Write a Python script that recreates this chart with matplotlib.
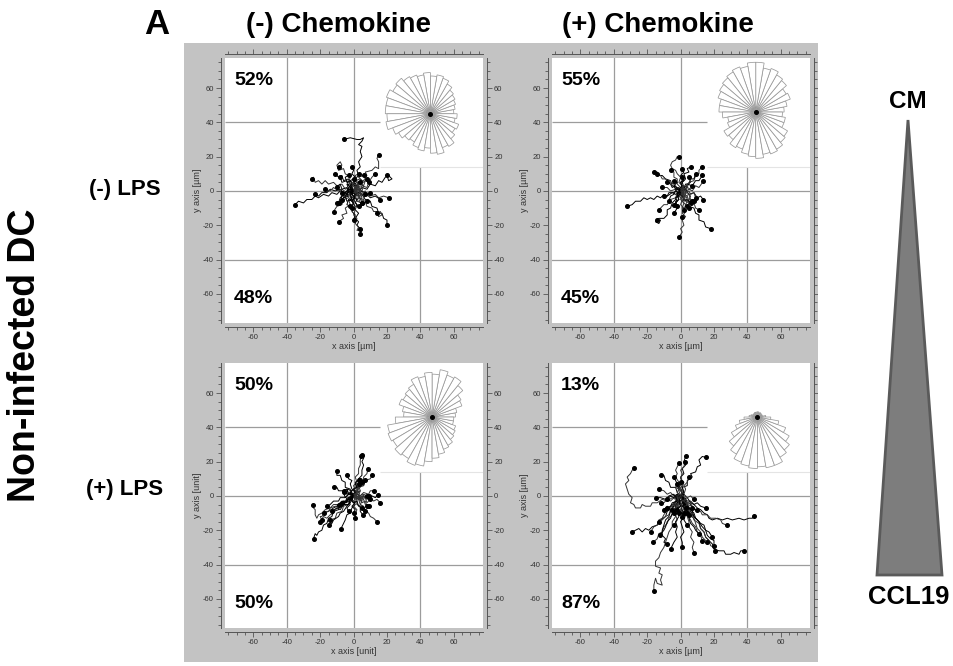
import numpy as np
import matplotlib.pyplot as plt
from matplotlib.patches import Wedge, Rectangle, Polygon
from matplotlib.ticker import MultipleLocator

plt.rcParams['font.family'] = ['Liberation Sans', 'DejaVu Sans']
plt.rcParams['axes.unicode_minus'] = False

W, H = 954, 666

col_titles = ['(-) Chemokine', '(+) Chemokine']
row_titles = ['(-) LPS', '(+) LPS']
upper_pct = ['52%', '55%', '50%', '13%']
lower_pct = ['48%', '45%', '50%', '87%']
x_labels = ['x axis [µm]', 'x axis [µm]', 'x axis [unit]', 'x axis [µm]']
y_labels = ['y axis [µm]', 'y axis [µm]', 'y axis [unit]', 'y axis [µm]']

# rose diagrams: 36 bins of 10 degrees, counter-clockwise from east
rose_bins = np.arange(0, 360, 10)
rose_tl = [14, 15, 16, 17, 18, 20, 22, 23, 22, 24, 23, 24, 25, 27, 26, 28, 27, 27,
           26, 27, 24, 22, 20, 19, 21, 22, 20, 23, 24, 21, 22, 19, 17, 18, 15, 16]
rose_tr = [17, 19, 22, 21, 24, 25, 27, 26, 29, 29, 27, 28, 27, 26, 25, 24, 22, 22,
           20, 17, 18, 22, 21, 24, 23, 25, 26, 27, 25, 26, 25, 23, 22, 18, 18, 16]
rose_bl = [14, 15, 19, 20, 24, 27, 26, 28, 25, 26, 24, 25, 22, 21, 20, 21, 18, 17,
           22, 27, 28, 27, 29, 28, 30, 29, 26, 24, 22, 20, 19, 17, 16, 15, 13, 13]
rose_br = [5, 3, 3, 2, 3, 3, 2, 3, 3, 3, 2, 3, 3, 2, 3, 3, 4, 5,
           8, 11, 14, 18, 22, 25, 28, 29, 30, 29, 30, 30, 27, 25, 22, 18, 13, 8]
rose_centers = [(46, 45), (45, 46), (47, 46), (46, 46)]

# cell tracks, flat x,y pairs in um, all starting at the origin
tracks_tl = [
    [0,0, 2,3, 0,6, 3,9, 2,12, 4,14, 3,17, 5,20, 4,23, 5,26, 3,27, 5,29, 6,31, 4,30, 2,30, -2,31, -6,30],
    [0,0, 3,2, 2,5, 6,6, 8,9, 7,11, 11,12, 13,14, 15,13, 15,17, 14,19, 15,21],
    [0,0, -3,1, -5,-1, -8,0, -10,-2, -13,-1, -15,-3, -18,-2, -21,-4, -23,-3, -25,-5, -28,-5, -30,-7, -33,-6, -35,-8],
    [0,0, -2,2, -5,1, -7,4, -10,3, -12,5, -15,4, -17,6, -19,4, -21,6, -23,5, -24,8, -25,7],
    [0,0, -3,-2, -6,-1, -8,1, -11,0, -14,1, -16,-1, -19,-1, -21,-3, -23,-2],
    [0,0, -2,1, -4,-1, -7,1, -9,0, -12,2, -14,0, -17,1],
    [0,0, 1,3, -2,4, -3,7, -6,6, -7,9, -9,8, -11,10],
    [0,0, -1,3, -3,5, -2,8, -5,10, -6,13, -9,12, -10,15, -8,17, -7,15, -9,14],
    [0,0, 2,2, 0,5, 1,8, -1,10, 0,12, -1,14],
    [0,0, 2,1, 3,4, 6,3, 7,6, 9,5, 11,8, 13,10],
    [0,0, 3,-1, 5,2, 8,1, 10,4, 13,3, 15,6, 17,5, 19,8, 21,9, 23,7, 21,6, 20,9],
    [0,0, 3,1, 5,-2, 8,-1, 10,-3, 13,-2, 15,-4, 18,-3, 21,-4],
    [0,0, 2,-3, 5,-2, 7,-5, 10,-6, 11,-9, 14,-10, 15,-13, 17,-13, 18,-16, 20,-17, 20,-20],
    [0,0, 3,-2, 4,-5, 7,-6, 8,-9, 11,-10, 12,-12, 14,-12, 15,-15, 17,-14, 16,-12, 14,-13],
    [0,0, 2,-2, 0,-5, 2,-8, 1,-11, 3,-13, 1,-16, 3,-18, 2,-20, 4,-22],
    [0,0, -2,-3, 0,-6, -1,-9, 1,-11, 0,-14, 2,-16, 1,-19, 3,-21, 2,-23, 5,-23, 4,-25],
    [0,0, 1,-3, -1,-6, 1,-9, -1,-12, 1,-14, 0,-17],
    [0,0, -2,-1, -3,-4, -6,-5, -7,-8, -10,-9, -12,-12],
    [0,0, -3,1, -4,-2, -7,-3, -8,-6, -10,-7],
    [0,0, -1,-3, -3,-5, -2,-8, -5,-10, -4,-13, -7,-14, -6,-16, -9,-18],
    [0,0, 3,-2, 5,0, 8,-2, 10,-4, 13,-3, 16,-5],
    [0,0, 2,-1, 1,2, 4,3, 3,0, 5,-2, 3,-4, 6,-5, 7,-2],
    [0,0, -2,1, -1,3, -4,4, -3,1, -5,-1, -3,-3, -6,-4, -7,-1],
    [0,0, 1,3, 3,2, 2,5, 5,6, 3,8, 6,9],
    [0,0, -1,-2, 1,-4, -1,-6, -3,-5, -4,-8, -2,-9],
    [0,0, 3,1, 4,-2, 7,0, 8,-3, 10,-1],
    [0,0, -3,-1, -4,2, -7,1, -8,4, -10,2],
    [0,0, 1,-2, 4,-1, 5,-4, 3,-6, 6,-8, 8,-6],
    [0,0, -2,2, 0,4, -2,6, -4,5, -5,8, -3,9],
    [0,0, 2,1, 1,-2, 3,-3, 2,-6, 5,-7],
    [0,0, -1,-1, -3,0, -4,-3, -6,-2, -8,-4, -9,-7],
    [0,0, 1,1, 3,4, 1,6, 4,7, 6,5, 8,7],
    [0,0, -2,-2, -1,-5, -4,-6, -5,-3, -7,-5],
    [0,0, 2,2, 4,1, 5,3, 8,2, 9,5],
    [0,0, -1,2, -3,3, -4,6, -7,5, -8,8],
    [0,0, 1,-1, 3,1, 5,0, 6,3, 4,5],
    [0,0, -1,1, -2,-1, 0,-3, -2,-5, 0,-7, -1,-10],
    [0,0, 2,0, 3,-2, 1,-3, 2,-5, 4,-4, 5,-7],
    [0,0, -2,0, -3,2, -1,4, -2,6, 0,7],
    [0,0, 1,2, -1,3, 0,5, 2,6, 1,9, 3,10],
    [0,0, -1,-1, 1,-2, 0,-4, 2,-5, 1,-7, 3,-9],
]

tracks_tr = [
    [0,0, -3,-2, -5,-1, -8,-3, -10,-2, -12,-4, -14,-3, -16,-5, -18,-4, -20,-5, -22,-4, -24,-6, -27,-6, -29,-8, -32,-9],
    [0,0, 1,3, -1,5, 0,8, -2,10, -3,12, -5,13, -6,15, -5,17, -3,18, -2,20, -1,20],
    [0,0, -2,2, -5,3, -6,6, -9,7, -11,9, -13,9, -14,11, -16,11],
    [0,0, -3,1, -4,4, -7,5, -9,7, -11,7, -12,9, -14,10],
    [0,0, 2,2, 1,5, 3,7, 2,10, 5,11, 4,13, 6,14],
    [0,0, 2,3, 4,2, 5,5, 8,6, 9,9, 11,10, 11,12, 13,14],
    [0,0, 3,1, 4,4, 7,3, 9,6, 11,6, 13,9],
    [0,0, 2,-1, 5,1, 7,0, 9,3, 11,2, 13.5,5.5],
    [0,0, 3,1, 5,-2, 8,-1, 10,-4, 12,-3, 13.5,-5],
    [0,0, 1,-3, 4,-3, 5,-6, 8,-7, 9,-10, 11,-11],
    [0,0, 2,-2, 2,-5, 5,-6, 5,-9, 8,-10, 9,-13, 11,-14, 11,-17, 14,-18, 15,-21, 18,-22],
    [0,0, -1,-3, 1,-5, 0,-8, 2,-10, 1,-13, 3,-15, 1,-17, 2,-20, 0,-22, 1,-24, -1,-27],
    [0,0, -2,-2, -3,-5, -5,-7, -6,-10, -8,-11, -8,-14, -10,-16, -13,-16, -15,-18, -13,-19, -12,-17, -14,-17],
    [0,0, -2,-1, -3,-4, -6,-5, -8,-8, -10,-8, -13,-11],
    [0,0, -2,1, -4,-1, -7,-1, -8,-3, -10,-3],
    [0,0, 1,-2, 0,-5, 2,-7, 1,-10, 3,-12, 1,-15],
    [0,0, -2,-2, -1,-5, -3,-7, -2,-10, -4,-13],
    [0,0, -2,-1, -3,1, -6,0, -8,2, -11,2],
    [0,0, 2,1, 3,4, 5,4, 6,7, 8,7, 9,10],
    [0,0, 0,2, -2,4, -2,7, -4,8, -4,11, -6,12],
    [0,0, 1,2, 0,5, 2,7, 0,9, 2,11, 1,13],
    [0,0, 2,-1, 1,-3, 4,-4, 3,-6, 5,-7, 4,-9],
    [0,0, -1,-2, 1,-3, 2,-6, 4,-5, 6,-7],
    [0,0, 2,1, 3,-1, 5,0, 6,-2, 8,-1, 9,-4],
    [0,0, -2,1, -3,3, -5,2, -6,4, -8,5],
    [0,0, 1,2, 3,1, 4,4, 6,5, 5,8],
    [0,0, -1,-1, -3,0, -4,-2, -6,-3, -7,-6],
    [0,0, 1,-1, 0,-3, 2,-4, 1,-6, 3,-8, 2,-11],
    [0,0, -1,1, 1,3, 0,5, 2,6, 1,8],
    [0,0, 2,-2, 4,-1, 6,-3, 5,-5, 7,-6],
    [0,0, -2,-1, -1,-3, -3,-4, -2,-6, -4,-8],
    [0,0, 1,1, 3,0, 4,2, 6,1, 7,3],
    [0,0, -1,2, -3,1, -4,3, -2,5, -4,6],
    [0,0, 2,0, 1,-2, 3,-3, 5,-2, 6,-5, 8,-6],
    [0,0, 0,-2, -2,-3, -1,-5, -3,-6, -2,-9],
    [0,0, 1,-1, 3,-2, 2,-4, 4,-6, 3,-8, 5,-10],
]

tracks_bl = [
    [0,0, -2,-2, -4,-1, -5,-4, -8,-5, -9,-8, -12,-9, -13,-12, -15,-13, -16,-16, -18,-17, -19,-20, -21,-21, -22,-23, -23,-22, -24,-25],
    [0,0, -3,-1, -4,-3, -7,-3, -9,-5, -12,-5, -14,-7, -17,-8, -19,-10, -21,-11, -22,-13, -23,-11, -23,-8, -24,-7, -24.5,-5],
    [0,0, -2,1, -2,4, -5,5, -5,8, -7,9, -8,12, -10,12, -10,14.5],
    [0,0, 1,3, 0,6, 2,8, 1,11, 3,13, 3,16, 4,18, 4,21, 4.5,23],
    [0,0, 2,2, 2,5, 4,7, 3,10, 5,12, 5,15, 6,18, 5,20, 6,22, 6.5,23.5, 5,24],
    [0,0, 1,3, 3,4, 4,7, 6,8, 6,11, 8,13, 8.5,15.5],
    [0,0, 3,1, 4,-1, 7,0, 9,-2, 11,0, 13,-1, 14.5,0.5],
    [0,0, 3,-2, 5,0, 8,-2, 10,-1, 12,-3, 14,-2, 16,-4],
    [0,0, -1,-3, 1,-5, -1,-7, -2,-10, -4,-11, -5,-14, -6,-16, -7.5,-19],
    [0,0, 1,-3, 0,-6, 2,-8, 1,-11, 1,-13],
    [0,0, 2,-2, 2,-5, 4,-6, 4,-9, 5.5,-11],
    [0,0, -2,-2, -3,-5, -6,-6, -7,-9, -10,-10, -11,-13, -14,-14],
    [0,0, -3,1, -5,-1, -8,-1, -9,-3, -12,-3, -14,-5, -16,-6],
    [0,0, -2,-3, -5,-3, -7,-6, -10,-7, -12,-10, -14,-11, -16,-13, -18,-12, -20,-15],
    [0,0, -2,2, -4,1, -6,3, -9,3, -10,5, -12,5],
    [0,0, 3,-2, 4,-5, 6,-6, 7,-9, 9,-10, 10,-12, 12,-13, 14,-15],
    [0,0, -2,-2, -3,-5, -6,-5, -8,-8, -10,-7, -13,-9],
    [0,0, 2,2, 3,5, 6,6, 7,9, 10,10, 11,12],
    [0,0, 1,2, -1,4, -2,7, -1,9, -3,10, -4,12],
    [0,0, 2,1, 4,0, 6,2, 9,1, 10,3, 12,3],
    [0,0, -3,-2, -5,-4, -8,-4, -10,-6, -12,-7, -15,-9, -18,-10],
    [0,0, -3,-1, -5,-3, -7,-4, -9,-6, -11,-6, -14,-7, -15,-9, -17,-9, -19,-12, -20,-12, -19,-14],
    [0,0, -2,-4, -4,-6, -6,-9, -8,-10, -9,-12, -12,-14, -13,-16, -15,-17],
    [0,0, 2,-1, 1,2, 4,3, 3,0, 5,-2, 6,1, 8,0],
    [0,0, -2,1, -1,3, -4,4, -3,1, -5,-1, -6,2],
    [0,0, 1,3, 3,2, 2,5, 5,6, 4,9],
    [0,0, -1,-2, 1,-4, -1,-6, 1,-8, 0,-10],
    [0,0, 3,1, 4,-2, 7,-1, 8,-4, 10,-2],
    [0,0, -3,-1, -4,-4, -6,-3, -7,-6, -9,-5],
    [0,0, 1,-2, 4,-1, 5,-4, 7,-3, 8,-6],
    [0,0, -2,2, 0,4, 2,5, 1,8, 3,9],
    [0,0, 2,1, 4,3, 3,6, 6,6, 7,9],
    [0,0, -1,-1, -3,-3, -2,-5, -4,-7, -3,-9],
    [0,0, 1,1, 3,-1, 5,1, 7,-1, 9,0],
    [0,0, -2,-2, 0,-4, 2,-3, 3,-6, 5,-7],
    [0,0, 2,2, 0,4, 2,6, 4,5, 5,8],
    [0,0, -1,2, -3,1, -4,4, -6,3],
    [0,0, 1,-1, 3,0, 4,-3, 6,-2, 7,-5, 9,-6],
    [0,0, -1,1, 1,2, 0,4, 2,5, 1,7, 3,7],
    [0,0, 2,0, 3,-2, 5,-3, 4,-5, 6,-7, 7,-9],
    [0,0, -2,0, -2,-2, -4,-2, -5,-4, -7,-4],
]

tracks_br = [
    [0,0, 1,3, -1,5, 1,8, 0,11, 2,13, 1,16, 3,18, 2,20, 3,23],
    [0,0, 2,2, 1,5, 2,8, 0,10, 1,13, 0,15, 2,17, 2.5,19.5],
    [0,0, 2,2, 1,5, 4,6, 4,9, 7,11, 6,13, 9,14, 10,17, 12,18, 11,21, 13,23, 15,22.5],
    [0,0, -3,-2, -5,-1, -8,-3, -11,-2, -14,-4, -17,-4, -18,-6, -21,-6, -23,-5, -24,-7, -27,-7, -28,-5, -30,-4,
     -29,-1, -31,1, -32,4, -33,7, -31,9, -32,11, -30,13, -29,15, -28,16],
    [0,0, -2,2, -3,5, -6,5, -7,8, -9,9, -10,12, -12,12],
    [0,0, -2,1, -4,0, -6,2, -8,1, -10,3, -13,4],
    [0,0, -3,-1, -4,1, -7,0, -9,-2, -12,-1, -15,-1],
    [0,0, -2,-2, -4,-1, -6,-3, -8,-2, -10,-4, -11.5,-4],
    [0,0, 2,-2, 4,-1, 6,-4, 8,-5, 10,-7, 12,-8, 14,-10, 16,-11, 17,-13, 19,-14, 22,-13, 25,-14, 28,-13,
     31,-14, 35,-13, 38,-14, 41,-13, 43,-13, 44,-11.5],
    [0,0, 3,-2, 4,-5, 7,-6, 9,-8, 12,-9, 13,-11, 16,-11, 18,-13, 21,-13, 24,-14, 25,-16, 27.5,-17],
    [0,0, 2,-3, 4,-6, 6,-9, 8,-12, 11,-15, 12,-19, 14,-21, 15,-24, 17,-26, 19,-28, 20,-31, 23,-32, 26,-32,
     27,-34, 30,-34, 32,-33, 35,-34, 36,-32, 38,-32],
    [0,0, 2,-3, 3,-6, 5,-9, 7,-11, 8,-14, 11,-16, 12,-19, 14,-21, 15,-24, 17,-26, 18,-29, 20,-30, 20.5,-32],
    [0,0, 3,-2, 4,-5, 6,-8, 8,-10, 9,-13, 11,-15, 13,-18, 15,-20, 16,-23, 18,-25, 20,-26, 20,-29],
    [0,0, 1,-3, 3,-6, 2,-9, 4,-12, 5,-15, 5,-18, 7,-21, 6,-24, 8,-27, 7,-30, 8,-33],
    [0,0, -1,-3, 1,-6, 0,-9, 2,-12, 0,-15, 1,-18, 2,-21, 0,-24, 1,-27, 1,-30],
    [0,0, -2,-3, -1,-6, -3,-9, -3,-12, -5,-15, -5,-18, -7,-21, -8,-24, -9,-27, -10,-30, -12,-33, -13,-36,
     -15,-38, -15,-41, -12,-42, -13,-45, -11,-46, -12,-49, -11,-52, -14,-51, -15,-48, -16,-52, -16,-55.5],
    [0,0, -2,-3, -4,-4, -5,-7, -8,-9, -9,-12, -12,-14, -14,-17, -17,-18, -19,-20, -21,-19, -23,-21, -25,-19,
     -27,-20, -29,-21],
    [0,0, -2,-3, -2,-6, -4,-8, -5,-11, -7,-13, -8,-16, -10,-18, -11,-21, -13,-22, -14,-25, -16.5,-27],
    [0,0, -1,-3, -3,-5, -3,-8, -5,-10, -6,-13, -8,-15, -9,-18, -10,-20, -12.5,-23],
    [0,0, 1,-3, 2,-6, 4,-8, 4,-11, 6,-14, 7,-16, 9,-18, 10,-21, 12,-23, 13,-26],
    [0,0, 2,-2, 3,-5, 5,-7, 7,-9, 8,-12, 10,-14, 12,-16, 14,-17, 15,-20, 17,-21, 19,-24],
    [0,0, -1,-2, -3,-3, -4,-6, -6,-8, -7,-11, -9,-12, -11,-14, -13,-15],
    [0,0, 1,2, -1,4, -2,7, -3,9, -4,11],
    [0,0, 2,1, 3,4, 2,6, 4,8, 5,11],
    [0,0, 2,-1, 4,-3, 6,-3, 8,-5, 10,-4, 12,-6, 15,-7],
    [0,0, -1,-3, -2,-6, -1,-9, -3,-11, -2,-14, -4,-17],
    [0,0, 1,-3, 2,-6, 1,-9, 3,-11, 2,-14, 4,-17],
    [0,0, -2,-2, -3,-4, -5,-5, -7,-7, -8,-6, -10,-8],
    [0,0, 2,-1, 3,-4, 5,-4, 7,-6, 8,-8, 10,-8],
    [0,0, -1,-3, 1,-5, 0,-8, 2,-10],
    [0,0, 1,-2, -1,-4, 0,-6, -2,-8],
    [0,0, 2,1, 4,-1, 6,0, 8,-2],
    [0,0, -2,1, -4,-1, -6,0, -8,-2],
    [0,0, 1,2, -1,4, 1,6, 0,8],
    [0,0, -3,-3, -4,-6, -6,-9, -7,-12, -9,-14, -10,-17, -11,-20, -11,-23, -9,-25, -10,-27, -8,-28],
    [0,0, 2,-3, 3,-6, 5,-8, 5,-11, 8,-13, 9,-16, 10,-19, 12,-21, 13,-24, 16,-27],
    [0,0, -1,-3, -3,-6, -2,-9, -1,-12, -3,-15, -2,-18, -3,-21, -2,-24, -4,-27, -5,-29, -6,-31],
    [0,0, -2,-3, -4,-4, -6,-7, -8,-8, -10,-11, -11,-13, -13,-14, -14,-17, -16,-18, -18,-21],
    [0,0, 1,-3, 3,-5, 3,-8, 5,-10, 5,-13, 6,-16, 8,-18, 9,-20, 11,-22],
    [0,0, -1,3, -2,6, -1,8, -3,11, -2,13, -3,15, -2,17, -1,19],
    [0,0, 2,-2, 1,-4, 3,-6, 2,-8, 4,-10],
    [0,0, -2,-1, -1,-4, -3,-5, -2,-8, -4,-10],
    [0,0, 1,-1, 3,-3, 2,-5, 4,-6, 3,-9, 5,-11],
    [0,0, -1,1, -3,-1, -2,-3, -4,-5, -3,-7, -5,-8],
    [0,0, 2,1, 1,-2, 3,-4, 1,-6, 3,-7],
    [0,0, -2,2, -1,4, -3,5, -2,7],
    [0,0, 1,-2, -1,-3, 0,-6, -2,-7, -1,-10],
    [0,0, 3,0, 2,-3, 4,-5, 6,-4, 7,-7],
    [0,0, -3,0, -2,-3, -5,-4, -6,-6, -8,-7],
    [0,0, 1,-3, 3,-2, 4,-5, 2,-7, 3,-10, 1,-12],
]

all_tracks = [tracks_tl, tracks_tr, tracks_bl, tracks_br]
all_roses = [rose_tl, rose_tr, rose_bl, rose_br]


def fx(px):
    return px / W


def fy(py):
    return 1 - py / H


fig = plt.figure(figsize=(W / 100, H / 100), dpi=100)

# grey backdrop behind the four plots
fig.add_artist(Rectangle((fx(184), fy(662)), fx(818) - fx(184), fy(43) - fy(662),
                         transform=fig.transFigure, facecolor='#c3c3c3',
                         edgecolor='none', zorder=-5))

boxes = [(225, 58), (552, 58), (225, 363), (552, 363)]
bw, bh = 258, 265
lim = (-77, 77.5)
grid_c = '#9c9c9c'
track_cols = ['#000000', '#333333']

for i, (left, top) in enumerate(boxes):
    ax = fig.add_axes([fx(left), fy(top + bh), bw / W, bh / H])
    ax.set_facecolor('white')
    ax.set_xlim(lim)
    ax.set_ylim(lim)
    is_top = i < 2
    for s in ['left', 'bottom', 'right', 'top']:
        ax.spines[s].set_position(('outward', 3))
        ax.spines[s].set_color('#555555')
        ax.spines[s].set_linewidth(0.7)
    ax.spines['top'].set_visible(is_top)
    ax.xaxis.set_major_locator(MultipleLocator(20))
    ax.xaxis.set_minor_locator(MultipleLocator(5))
    ax.yaxis.set_major_locator(MultipleLocator(20))
    ax.yaxis.set_minor_locator(MultipleLocator(5))
    ax.tick_params(which='both', direction='out', colors='#555555', labelcolor='#333333',
                   labelsize=5.5, right=True, labelright=True, top=is_top,
                   labeltop=False, width=0.6, pad=1.5)
    ax.tick_params(which='major', length=3.5)
    ax.tick_params(which='minor', length=2)
    ax.set_xlabel(x_labels[i], fontsize=6.5, color='#333333', labelpad=0.5)
    ax.set_ylabel(y_labels[i], fontsize=6.5, color='#333333', labelpad=1)

    # grid; the rose box hides the upper right part
    ax.axvline(-40, color=grid_c, lw=0.9, zorder=1)
    ax.axvline(0, color=grid_c, lw=0.9, zorder=1)
    ax.vlines(40, lim[0], 14, color=grid_c, lw=0.9, zorder=1)
    ax.axhline(-40, color=grid_c, lw=0.9, zorder=1)
    ax.axhline(0, color=grid_c, lw=0.9, zorder=1)
    ax.hlines(40, lim[0], 16, color=grid_c, lw=0.9, zorder=1)
    ax.hlines(14, 16, lim[1], color='#e4e4e4', lw=0.8, zorder=1)

    for k, tr in enumerate(all_tracks[i]):
        xs = tr[0::2]
        ys = tr[1::2]
        ax.plot(xs, ys, color=track_cols[k % 2], lw=0.7, zorder=2)
        ax.plot(xs[-1], ys[-1], 'o', color='black', ms=2.6, zorder=3)

    cx, cy = rose_centers[i]
    for a, r in zip(rose_bins, all_roses[i]):
        ax.add_patch(Wedge((cx, cy), r, a, a + 10, facecolor='white',
                           edgecolor='#999999', lw=0.55, zorder=3))
    ax.plot(cx, cy, 'o', color='black', ms=2.6, zorder=4)

    ax.text(0.035, 0.915, upper_pct[i], transform=ax.transAxes, fontsize=14,
            fontweight='bold', va='center', ha='left', zorder=5)
    ax.text(0.035, 0.094, lower_pct[i], transform=ax.transAxes, fontsize=14,
            fontweight='bold', va='center', ha='left', zorder=5)

# the right strip stays white; it clips the last tick labels
fig.add_artist(Rectangle((fx(818), 0), 1 - fx(818), 1, transform=fig.transFigure,
                         facecolor='white', edgecolor='none', zorder=10))

fig.text(fx(157), fy(25), 'A', fontsize=25, fontweight='bold', ha='center', va='center')
fig.text(fx(338), fy(25), col_titles[0], fontsize=20, fontweight='bold', ha='center', va='center')
fig.text(fx(658), fy(25), col_titles[1], fontsize=20, fontweight='bold', ha='center', va='center')
fig.text(fx(125), fy(190), row_titles[0], fontsize=16, fontweight='bold', ha='center', va='center')
fig.text(fx(125), fy(490), row_titles[1], fontsize=16, fontweight='bold', ha='center', va='center')
fig.text(fx(25), fy(355), 'Non-infected DC', fontsize=27, fontweight='bold',
         rotation=90, ha='center', va='center')

# gradient triangle, CM on top, CCL19 at the base
fig.add_artist(Polygon([(fx(908), fy(120)), (fx(877), fy(575)), (fx(942), fy(575))],
                       closed=True, transform=fig.transFigure, facecolor='#7d7d7d',
                       edgecolor='#5a5a5a', lw=2, zorder=11))
fig.text(fx(908), fy(101), 'CM', fontsize=17.5, fontweight='bold', ha='center',
         va='center', zorder=12)
fig.text(fx(909), fy(597), 'CCL19', fontsize=18.5, fontweight='bold', ha='center',
         va='center', zorder=12)

fig.savefig('out.png', dpi=100)
